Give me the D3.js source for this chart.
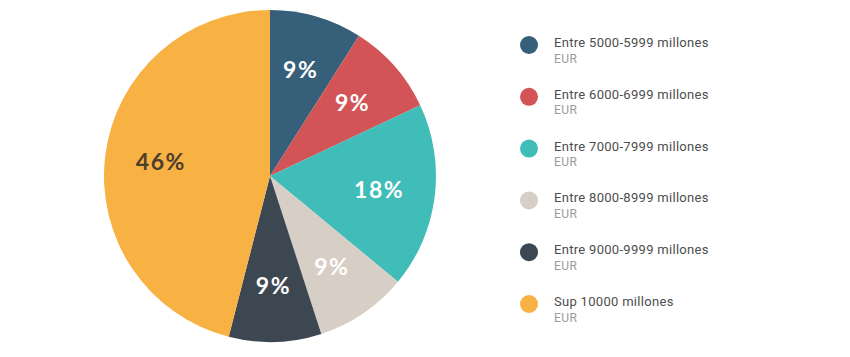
<!DOCTYPE html>
<html><head><meta charset="utf-8">
<script src="https://cdn.jsdelivr.net/npm/d3@7"></script>
<style>body{margin:0;background:#fff}svg{display:block}</style>
</head><body>
<svg id="c" width="850" height="357"></svg>
<script>
const categories = ["Entre 5000-5999 millones","Entre 6000-6999 millones","Entre 7000-7999 millones","Entre 8000-8999 millones","Entre 9000-9999 millones","Sup 10000 millones"];
const subLabels = ["EUR","EUR","EUR","EUR","EUR","EUR"];
const values = [9, 9, 18, 9, 9, 46];
const colors = ["#365f7a","#d35457","#40bdb8","#d7cec6","#3d4752","#f8b143"];
const labelColors = ["#ffffff","#ffffff","#ffffff","#ffffff","#ffffff","#4a3e2c"];

const svg = d3.select("#c");
const cx = 270, cy = 176, R = 166;
const g = svg.append("g").attr("transform", `translate(${cx},${cy})`);
const pie = d3.pie().sort(null).value(d => d);
const arcs = pie(values);
const arc = d3.arc().innerRadius(0).outerRadius(R);
const labelArc = d3.arc().innerRadius(110).outerRadius(110);

g.selectAll("path").data(arcs).join("path")
  .attr("d", arc).attr("fill", (d,i) => colors[i]);

g.selectAll("text").data(arcs).join("text")
  .attr("transform", d => `translate(${labelArc.centroid(d)})`)
  .attr("text-anchor","middle").attr("dy","0.35em")
  .attr("font-family","Lato, 'Open Sans', sans-serif")
  .attr("font-weight","bold").attr("font-size","23px")
  .attr("letter-spacing","1.5px")
  .attr("fill", (d,i) => labelColors[i])
  .text(d => d.data + "%");

const y = d3.scalePoint().domain(categories).range([45, 304]);
const leg = svg.append("g");
const items = leg.selectAll("g").data(categories).join("g")
  .attr("transform", d => `translate(529,${y(d)})`);
items.append("circle").attr("r", 9).attr("fill", (d,i) => colors[i]);
items.append("text").attr("x", 25).attr("y", 2)
  .attr("font-family","Roboto, sans-serif").attr("font-size","13px")
  .attr("letter-spacing","0.3px").attr("fill","#4d4d4d").text(d => d);
items.append("text").attr("x", 25).attr("y", 17.5)
  .attr("font-family","Roboto, sans-serif").attr("font-size","12px")
  .attr("letter-spacing","0.5px").attr("fill","#9b9b9b").text((d,i) => subLabels[i]);
</script>
</body></html>
